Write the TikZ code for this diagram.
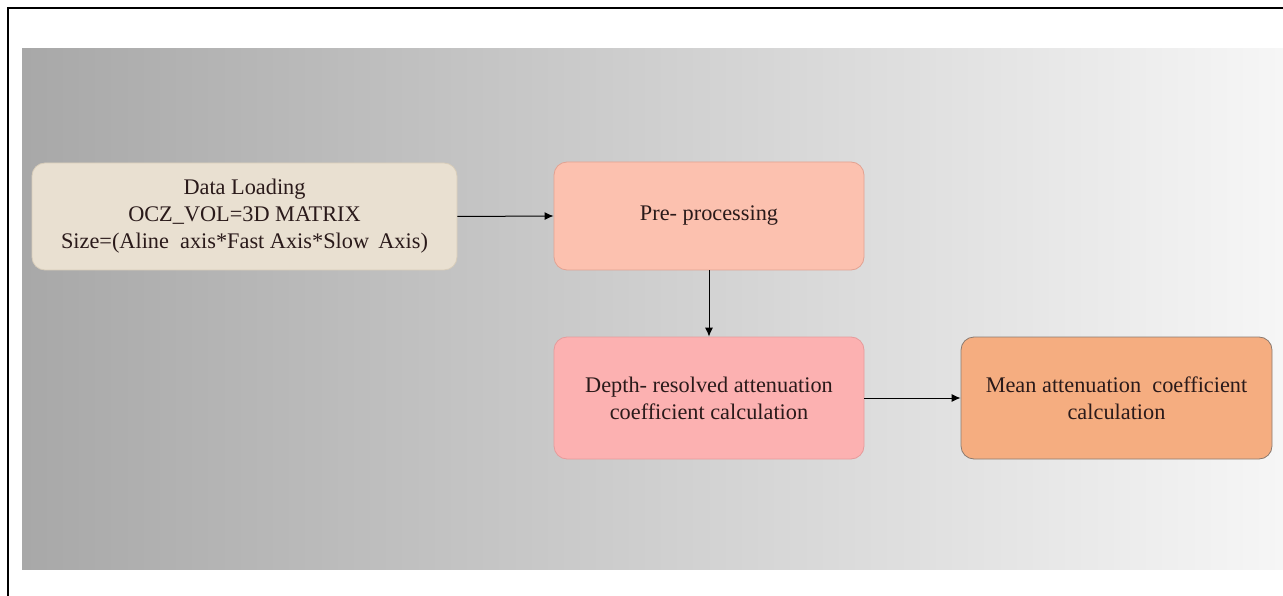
\documentclass[tikz,border=0pt]{standalone}
\usepackage{fontspec}
\setmainfont{Liberation Serif}
\usetikzlibrary{arrows.meta}
\definecolor{txt}{HTML}{2A1A1A}
\definecolor{bgL}{HTML}{A8A8A8}
\definecolor{bgR}{HTML}{F6F6F6}
\definecolor{fA}{HTML}{E9E0D1}
\definecolor{dA}{HTML}{D8CDBA}
\definecolor{fB}{HTML}{FCC1AF}
\definecolor{dB}{HTML}{E2A292}
\definecolor{fC}{HTML}{FCB1B1}
\definecolor{dC}{HTML}{E69B9B}
\definecolor{fD}{HTML}{F5AD80}
\definecolor{dD}{HTML}{8A7A70}
\tikzset{
  boxstyle/.style={rounded corners=13pt, draw, line width=0.8pt, align=center,
    text=txt, font=\rmfamily\fontsize{22.3}{27}\selectfont, inner sep=0pt},
  arr/.style={line width=1pt, -{Latex[length=9pt,width=8pt]}}
}
\begin{document}
\begin{tikzpicture}[x=1pt,y=-1pt]
\useasboundingbox (0,0) rectangle (1283,596);
\fill[white] (0,0) rectangle (1283,596);
\shade[left color=bgL, right color=bgR] (22,49) rectangle (1283,569);
\draw[line width=2.5pt] (8,596) -- (8,8) -- (1283,8);
\node[boxstyle, fill=fA, draw=dA, minimum width=425pt, minimum height=107pt] (load) at (244.5,216.5)
  {Data Loading\\OCZ\_VOL=3D MATRIX\\Size=(Aline\ \ axis*Fast Axis*Slow\,\ Axis)};
\node[boxstyle, fill=fB, draw=dB, minimum width=310pt, minimum height=108pt] (pre) at (709,216)
  {Pre- processing};
\node[boxstyle, fill=fC, draw=dC, minimum width=310pt, minimum height=122pt] (depth) at (709,398)
  {Depth- resolved attenuation\\coefficient calculation};
\node[boxstyle, fill=fD, draw=dD, minimum width=311pt, minimum height=122pt] (mean) at (1116.5,398)
  {Mean attenuation\ \ coefficient\\calculation};
\draw[arr] (load.east) -- (pre.west);
\draw[arr] (pre.south) -- (depth.north);
\draw[arr] (depth.east) -- (mean.west);
\end{tikzpicture}
\end{document}
